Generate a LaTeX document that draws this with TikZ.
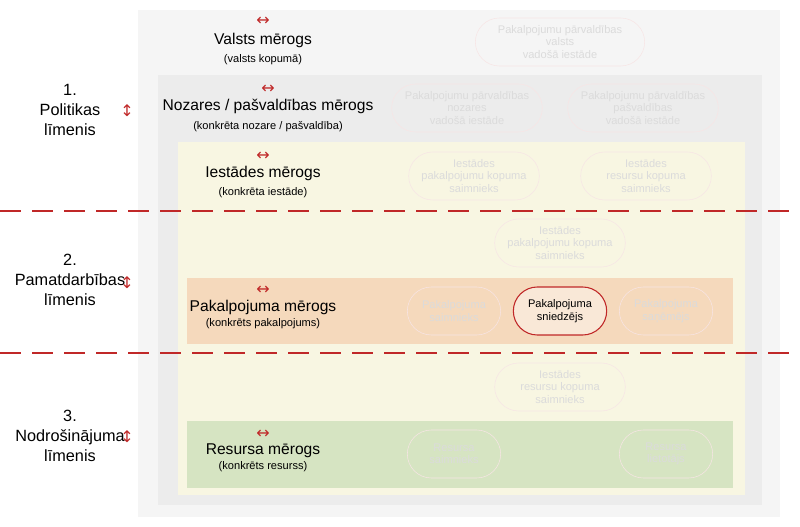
\documentclass[tikz,border=0pt]{standalone}
\usepackage{fontspec}
\usetikzlibrary{shapes.misc}
\setmainfont{Liberation Sans}
\newfontfamily\symfont{DejaVu Sans}
\definecolor{levelRed}{RGB}{192, 40, 40}
\definecolor{outerGray}{RGB}{245, 245, 245}
\definecolor{innerGray}{RGB}{236, 236, 236}
\definecolor{bodyYellow}{RGB}{248, 246, 226}
\definecolor{serviceOrange}{RGB}{245, 217, 188}
\definecolor{resourceGreen}{RGB}{214, 228, 194}
\tikzset{
  role/.style={draw=levelRed!12,rounded rectangle,minimum height=36pt,align=center,text=black!14,font=\fontsize{8.3}{9.3}\selectfont,inner sep=1pt},
  title/.style={font=\fontsize{11.7}{13}\selectfont,align=center},
  sub/.style={font=\fontsize{8.3}{9}\selectfont,align=center},
  arrowsym/.style={text=levelRed,font=\symfont\fontsize{12}{12}\selectfont},
  level/.style={font=\fontsize{12.2}{15}\selectfont,align=center}
}
\begin{document}
\begin{tikzpicture}[x=0.75pt,y=-0.75pt]
            \useasboundingbox (0,0) rectangle (800,527);
            % Bands
            \fill[outerGray] (138,10) rectangle (780,517);
            \fill[innerGray] (158,75) rectangle (762,505);
            \fill[bodyYellow] (178,142) rectangle (745,495);
            \fill[serviceOrange] (187,278) rectangle (733,344);
            \fill[resourceGreen] (187,421) rectangle (733,488);
            
            % Level borders
            \draw[levelRed,line width=1.2pt,dash pattern=on 16pt off 8pt] (0,211) -- (804,211);
            \draw[levelRed,line width=1.2pt,dash pattern=on 16pt off 8pt] (0,353) -- (804,353);
            
            % Levels
            \node[level] (lvl1) at (70,110) {1.\\Politikas\\līmenis};
            \node[arrowsym] (lvl1a) at (127,111) {↕};
            \node[level] (lvl2) at (70,280) {2.\\Pamatdarbības\\līmenis};
            \node[arrowsym] (lvl2a) at (127,283) {↕};
            \node[level] (lvl3) at (70,436) {3.\\Nodrošinājuma\\līmenis};
            \node[arrowsym] (lvl3a) at (127,437) {↕};
            
            % Scales
            \node[arrowsym] (valA) at (263,21) {↔};
            \node[title] (val) at (263,40) {Valsts mērogs};
            \node[sub] (valS) at (263,60) {(valsts kopumā)};
            \node[arrowsym] (nozA) at (268,89) {↔};
            \node[title] (noz) at (268,106) {Nozares / pašvaldības mērogs};
            \node[sub] (nozS) at (268,127) {(konkrēta nozare / pašvaldība)};
            \node[arrowsym] (iesA) at (263,156) {↔};
            \node[title] (ies) at (263,173) {Iestādes mērogs};
            \node[sub] (iesS) at (263,193) {(konkrēta iestāde)};
            \node[arrowsym] (pakA) at (263,290) {↔};
            \node[title] (pak) at (263,307) {Pakalpojuma mērogs};
            \node[sub] (pakS) at (263,324) {(konkrēts pakalpojums)};
            \node[arrowsym] (resA) at (263,434) {↔};
            \node[title] (res) at (263,451) {Resursa mērogs};
            \node[sub] (resS) at (263,467) {(konkrēts resurss)};
            
            % Roles
            \node[role,minimum width=129pt] (r1) at (560,42) {Pakalpojumu pārvaldības\\valsts\\vadošā iestāde};
            \node[role,minimum width=115pt] (r2) at (467,108) {Pakalpojumu pārvaldības\\nozares\\vadošā iestāde};
            \node[role,minimum width=115pt] (r3) at (643,108) {Pakalpojumu pārvaldības\\pašvaldības\\vadošā iestāde};
            \node[role,minimum width=100pt] (r4) at (474,176) {Iestādes\\pakalpojumu kopuma\\saimnieks};
            \node[role,minimum width=100pt] (r5) at (646,176) {Iestādes\\resursu kopuma\\saimnieks};
            \node[role,minimum width=100pt] (r6) at (560,243) {Iestādes\\pakalpojumu kopuma\\saimnieks};
            \node[role,minimum width=72pt] (r7) at (454,311) {Pakalpojuma\\saimnieks};
            \node[role,minimum width=72pt,draw=levelRed,fill=serviceOrange!60,text=black,line width=0.8pt] (r8) at (560,311) {Pakalpojuma\\sniedzējs};
            \node[role,minimum width=72pt] (r9) at (666,311) {Pakalpojuma\\saņēmējs};
            \node[role,minimum width=100pt] (r10) at (560,387) {Iestādes\\resursu kopuma\\saimnieks};
            \node[role,minimum width=72pt] (r11) at (454,454) {Resursa\\saimnieks};
            \node[role,minimum width=72pt] (r12) at (666,454) {Resursa\\lietotājs};
        \end{tikzpicture}
\end{document}
